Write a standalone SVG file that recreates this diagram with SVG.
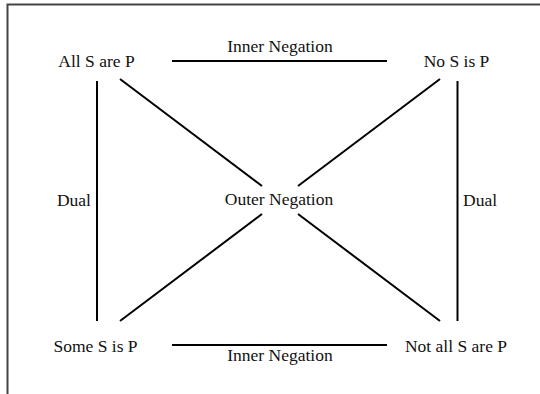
<svg xmlns="http://www.w3.org/2000/svg" width="540" height="394" viewBox="0 0 540 394">
<style>
text{font-family:"Liberation Serif","Times New Roman",serif;font-size:17.5px;fill:#111;text-anchor:middle}
.ln{stroke:#000;stroke-width:2;fill:none}
.fr{stroke:#444;stroke-width:2;fill:none}
</style>
<rect width="540" height="394" fill="#fff"/>
<path class="fr" d="M7.5,394 V4.5 H540"/>
<g id="connectors">
<line class="ln" x1="172" y1="61" x2="387" y2="61"/>
<line class="ln" x1="172" y1="345" x2="387" y2="345"/>
<line class="ln" x1="97" y1="81" x2="97" y2="321"/>
<line class="ln" x1="457.5" y1="81" x2="457.5" y2="321"/>
<line class="ln" x1="120" y1="79" x2="262" y2="186"/>
<line class="ln" x1="298" y1="214" x2="440" y2="321"/>
<line class="ln" x1="440" y1="79" x2="298" y2="186"/>
<line class="ln" x1="262" y1="214" x2="120" y2="321"/>
<text x="280" y="52">Inner Negation</text>
<text x="280" y="361">Inner Negation</text>
<text x="91" y="206" style="text-anchor:end">Dual</text>
<text x="463" y="206" style="text-anchor:start">Dual</text>
</g>
<g id="n-all"><text x="96.5" y="67">All S are P</text></g>
<g id="n-no"><text x="456.5" y="67">No S is P</text></g>
<g id="n-some"><text x="95.5" y="352">Some S is P</text></g>
<g id="n-notall"><text x="456" y="352">Not all S are P</text></g>
<g id="n-outer"><text x="279" y="205">Outer Negation</text></g>
</svg>
